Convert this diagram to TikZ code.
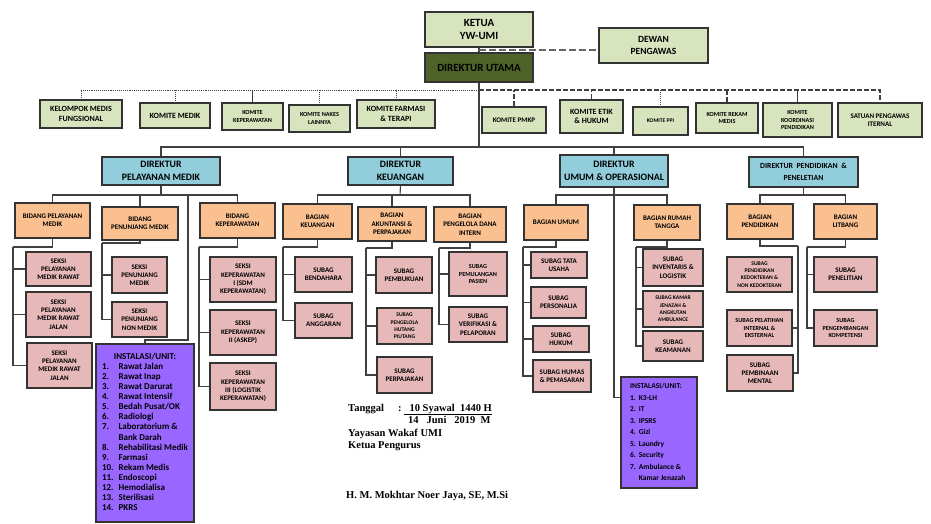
\documentclass[tikz,border=0pt]{standalone}
\usepackage{fontspec}
\setmainfont{Carlito}
\newfontfamily\signfont{Liberation Serif}
\definecolor{boardgreen}{HTML}{D7E4BD}
\definecolor{headolive}{HTML}{4F6228}
\definecolor{dirblue}{HTML}{92CDDC}
\definecolor{partpeach}{HTML}{FAC090}
\definecolor{subpink}{HTML}{E6B9B8}
\definecolor{unitpurple}{HTML}{9966FF}
\begin{document}
\begin{tikzpicture}[x=1pt,y=-1pt,
  box/.style={draw=black!80,line width=1.1pt,inner sep=1pt,align=center},
  boardbox/.style={box,fill=boardgreen},
  headbox/.style={box,fill=headolive},
  dirbox/.style={box,fill=dirblue},
  partbox/.style={box,fill=partpeach},
  subbox/.style={box,fill=subpink},
  unitbox/.style={box,fill=unitpurple},
  fA/.style={font=\bfseries\fontsize{11}{12.5}\selectfont},
  fDir/.style={font=\bfseries\fontsize{9.8}{13}\selectfont},
  fB/.style={font=\bfseries\fontsize{8}{9.5}\selectfont},
  fC/.style={font=\bfseries\fontsize{7}{8.3}\selectfont},
  fD/.style={font=\bfseries\fontsize{6.2}{7.8}\selectfont},
  fE/.style={font=\bfseries\fontsize{5.6}{7.3}\selectfont},
  link/.style={draw=black!75,line width=1.1pt},
  sign/.style={inner sep=0pt,anchor=base west,font=\signfont\bfseries\fontsize{10.5}{12}\selectfont}]
\def\bx#1#2#3#4#5#6#7{\node[#1,minimum width=#5pt-#3pt,minimum height=#6pt-#4pt] (#2) at ({(#3+#5)/2},{(#4+#6)/2}) {#7};}

\useasboundingbox (0,0) rectangle (931,523);

% top
\bx{boardbox,fA}{ketua}{425}{12}{533}{47}{KETUA\\YW-UMI}
\bx{boardbox,fA,font=\bfseries\fontsize{9.5}{12.5}\selectfont}{dewan}{599}{28}{708}{63}{DEWAN\\PENGAWAS}
\bx{headbox,fA}{dirut}{425}{53}{533}{82}{DIREKTUR UTAMA}
\coordinate (kd) at (479,50);
\draw[link] (ketua.south) -- (dirut.north);
\draw[link,draw=black!60,dash pattern=on 7pt off 3pt] (kd) -- (kd -| dewan.west);

% komite
\bx{boardbox,fB}{kmf}{40}{100}{122}{128}{KELOMPOK MEDIS\\FUNGSIONAL}
\bx{boardbox,fB}{kmed}{140}{103}{210}{128}{KOMITE MEDIK}
\bx{boardbox,fD}{kkep}{222}{103}{283}{130}{KOMITE\\KEPERAWATAN}
\bx{boardbox,fD}{knak}{289}{105}{350}{132}{KOMITE NAKES\\LAINNYA}
\bx{boardbox,fB}{kfar}{357}{100}{435}{128}{KOMITE FARMASI\\\& TERAPI}
\bx{boardbox,fC}{kpmkp}{482}{107}{546}{133}{KOMITE PMKP}
\bx{boardbox,fB}{ketik}{560}{100}{623}{133}{KOMITE ETIK\\\& HUKUM}
\bx{boardbox,fE}{kppi}{633}{107}{688}{135}{KOMITE PPI}
\bx{boardbox,fD}{krm}{696}{103}{758}{133}{KOMITE REKAM\\MEDIS}
\bx{boardbox,fD}{kkp}{763}{103}{832}{137}{KOMITE\\KOORDINASI\\PENDIDIKAN}
\bx{boardbox,fC}{spi}{838}{103}{922}{137}{SATUAN PENGAWAS\\ITERNAL}
\coordinate (kbm) at (479,90);
\draw[link,line width=0.9pt,densely dotted] (kmf.north) |- (kbm);
\draw[link,dash pattern=on 5pt off 2pt] (kbm) -| (spi.north);
\draw[link,line width=0.9pt,densely dotted] (kmed.north) -- (kmed.north |- kbm);
\draw[link] (kkep.north) -- (kkep.north |- kbm);
\draw[link,line width=0.9pt,densely dotted] (knak.north) -- (knak.north |- kbm);
\draw[link,line width=0.9pt,densely dotted] (kfar.north) -- (kfar.north |- kbm);
\draw[link,dash pattern=on 5pt off 2pt] (kpmkp.north) -- (kpmkp.north |- kbm);
\draw[link,dash pattern=on 5pt off 2pt] (ketik.north) -- (ketik.north |- kbm);
\draw[link,line width=0.9pt,densely dotted] (kppi.north) -- (kppi.north |- kbm);
\draw[link,dash pattern=on 5pt off 2pt] (krm.north) -- (krm.north |- kbm);
\draw[link] (kkp.north) -- (kkp.north |- kbm);

% direktur
\bx{dirbox,fDir}{dpm}{102}{157}{220}{185}{DIREKTUR\\PELAYANAN MEDIK}
\bx{dirbox,fDir}{dkeu}{348}{157}{453}{185}{DIREKTUR\\KEUANGAN}
\bx{dirbox,fDir}{dumum}{560}{155}{668}{187}{DIREKTUR\\UMUM \& OPERASIONAL}
\bx{dirbox,font=\bfseries\fontsize{7.8}{12}\selectfont}{dpend}{749}{157}{858}{187}{DIREKTUR\ \ PENDIDIKAN\ \ \&\\PENELETIAN}
\coordinate (db) at (479,147);
\draw[link] (dirut.south) -- (db);
\draw[link] (dpm.north) |- (db) -| (dpend.north);
\draw[link] (dkeu.north) |- (db);
\draw[link] (dumum.north) |- (db);

% pelayanan medik
\bx{partbox,fC}{bpm}{15}{203}{90}{238}{BIDANG PELAYANAN\\MEDIK}
\bx{partbox,fC}{bpen}{102}{207}{178}{240}{BIDANG\\PENUNJANG MEDIK}
\bx{partbox,fC}{bkep}{200}{203}{275}{238}{BIDANG\\KEPERAWATAN}
\bx{subbox,fC}{s1}{26}{252}{91}{286}{SEKSI\\PELAYANAN\\MEDIK RAWAT}
\bx{subbox,fC}{s2}{26}{292}{91}{337}{SEKSI\\PELAYANAN\\MEDIK RAWAT\\JALAN}
\bx{subbox,fC}{s3}{27}{343}{92}{388}{SEKSI\\PELAYANAN\\MEDIK RAWAT\\JALAN}
\bx{subbox,fC}{s4}{112}{257}{167}{293}{SEKSI\\PENUNJANG\\MEDIK}
\bx{subbox,fC}{s5}{112}{302}{167}{337}{SEKSI\\PENUNJANG\\NON MEDIK}
\bx{subbox,fC}{s6}{210}{257}{276}{302}{SEKSI\\KEPERAWATAN\\I (SDM\\KEPERAWATAN)}
\bx{subbox,fC}{s7}{210}{310}{276}{355}{SEKSI\\KEPERAWATAN\\II (ASKEP)}
\bx{subbox,fC}{s8}{210}{363}{276}{410}{SEKSI\\KEPERAWATAN\\III (LOGISTIK\\KEPERAWATAN)}
\bx{unitbox,font=\bfseries\fontsize{9}{10.1}\selectfont}{inst1}{96}{344}{194}{522}{%
\begin{tabular}{@{}l@{\hspace{5pt}}l@{}}
\multicolumn{2}{c}{INSTALASI/UNIT:}\\
1. & Rawat Jalan\\
2. & Rawat Inap\\
3. & Rawat Darurat\\
4. & Rawat Intensif\\
5. & Bedah Pusat/OK\\
6. & Radiologi\\
7. & Laboratorium \&\\
   & Bank Darah\\
8. & Rehabilitasi Medik\\
9. & Farmasi\\
10. & Rekam Medis\\
11. & Endoscopi\\
12. & Hemodialisa\\
13. & Sterilisasi\\
14. & PKRS
\end{tabular}}
\coordinate (pmb) at (161,195);
\coordinate (i1) at (188,340);
\draw[link] (dpm.south) -- (pmb);
\draw[link] (bpm.north) |- (pmb) -| (bkep.north);
\draw[link] (pmb) -| (bpen.north);
\draw[link] (pmb) -| (i1) -| (inst1.north);
\coordinate (bpmv) at (13,247);
\draw[link] (bpm.south) |- (bpmv);
\foreach \s in {s1,s2,s3} \draw[link] (bpmv) |- (\s.west);
\coordinate (bpenv) at (102,243);
\draw[link] (bpen.south) |- (bpenv);
\foreach \s in {s4,s5} \draw[link] (bpenv) |- (\s.west);
\coordinate (bkepv) at (199,247);
\draw[link] (bkep.south) |- (bkepv);
\foreach \s in {s6,s7,s8} \draw[link] (bkepv) |- (\s.west);

% keuangan
\bx{partbox,fC}{bkeu}{283}{204}{352}{239}{BAGIAN\\KEUANGAN}
\bx{partbox,fC}{bakun}{358}{207}{426}{241}{BAGIAN\\AKUNTANSI \&\\PERPAJAKAN}
\bx{partbox,fC}{bdana}{434}{207}{506}{242}{BAGIAN\\PENGELOLA DANA\\INTERN}
\bx{subbox,fC}{sb1}{295}{257}{352}{292}{SUBAG\\BENDAHARA}
\bx{subbox,fC}{sb2}{295}{303}{352}{338}{SUBAG\\ANGGARAN}
\bx{subbox,fC}{sb3}{376}{257}{432}{293}{SUBAG\\PEMBUKUAN}
\bx{subbox,fE}{sb4}{377}{308}{432}{344}{SUBAG\\PENGELOLA\\HUTANG\\PIUTANG}
\bx{subbox,fC}{sb5}{377}{357}{432}{393}{SUBAG\\PERPAJAKAN}
\bx{subbox,fD}{sb6}{449}{252}{507}{296}{SUBAG\\PEMULANGAN\\PASIEN}
\bx{subbox,fC}{sb7}{449}{307}{507}{342}{SUBAG\\VERIFIKASI \&\\PELAPORAN}
\coordinate (kub) at (400,195);
\draw[link] (dkeu.south) -- (kub);
\draw[link] (bkeu.north) |- (kub) -| (bdana.north);
\draw[link] (kub) -| (bakun.north);
\coordinate (bkeuv) at (283,247);
\draw[link] (bkeu.south) |- (bkeuv);
\foreach \s in {sb1,sb2} \draw[link] (bkeuv) |- (\s.west);
\coordinate (bakunv) at (366,248);
\draw[link] (bakun.south) |- (bakunv);
\foreach \s in {sb3,sb4,sb5} \draw[link] (bakunv) |- (\s.west);
\coordinate (bdanav) at (439,248);
\draw[link] (bdana.south) |- (bdanav);
\foreach \s in {sb6,sb7} \draw[link] (bdanav) |- (\s.west);

% umum & operasional
\bx{partbox,fC}{bum}{524}{205}{588}{240}{BAGIAN UMUM}
\bx{partbox,fC}{brt}{634}{205}{700}{240}{BAGIAN RUMAH\\TANGGA}
\bx{subbox,fC}{su1}{531}{252}{587}{278}{SUBAG TATA\\USAHA}
\bx{subbox,fC}{su2}{531}{287}{586}{318}{SUBAG\\PERSONALIA}
\bx{subbox,fC}{su3}{533}{326}{589}{352}{SUBAG\\HUKUM}
\bx{subbox,fC}{su4}{533}{360}{591}{392}{SUBAG HUMAS\\\& PEMASARAN}
\bx{subbox,fC}{sr1}{643}{249}{703}{286}{SUBAG\\INVENTARIS \&\\LOGISTIK}
\bx{subbox,fE}{sr2}{643}{291}{703}{327}{SUBAG KAMAR\\JENAZAH \&\\ANGKUTAN\\AMBULANCE}
\bx{subbox,fC}{sr3}{643}{331}{703}{361}{SUBAG\\KEAMANAN}
\bx{unitbox,font=\bfseries\fontsize{7.5}{11.5}\selectfont}{inst2}{621}{377}{697}{488}{%
\begin{tabular}{@{}l@{\hspace{3pt}}l@{}}
\multicolumn{2}{@{}l}{INSTALASI/UNIT:}\\
1. & K3-LH\\
2. & IT\\
3. & IPSRS\\
4. & Gizi\\
5. & Laundry\\
6. & Security\\
7. & Ambulance \&\\
   & Kamar Jenazah
\end{tabular}}
\coordinate (umb) at (614,195);
\draw[link] (dumum.south) |- ([yshift=-21pt]inst2.north west);
\draw[link] (bum.north) |- (umb) -| (brt.north);
\coordinate (bumv) at (523,247);
\draw[link] (bum.south) |- (bumv);
\foreach \s in {su1,su2,su3,su4} \draw[link] (bumv) |- (\s.west);
\coordinate (brtv) at (636,247);
\draw[link] (brt.south) |- (brtv);
\foreach \s in {sr1,sr2,sr3} \draw[link] (brtv) |- (\s.west);

% pendidikan & penelitian
\bx{partbox,fC}{bpd}{727}{204}{793}{239}{BAGIAN\\PENDIDIKAN}
\bx{partbox,fC}{blit}{814}{204}{877}{239}{BAGIAN\\LITBANG}
\bx{subbox,fE}{sp1}{727}{257}{792}{292}{SUBAG\\PENDIDIKAN\\KEDOKTERAN \&\\NON KEDOKTERAN}
\bx{subbox,fD}{sp2}{727}{310}{792}{346}{SUBAG PELATIHAN\\INTERNAL \&\\EKSTERNAL}
\bx{subbox,fC}{sp3}{727}{355}{793}{391}{SUBAG\\PEMBINAAN\\MENTAL}
\bx{subbox,fC}{sl1}{814}{257}{877}{292}{SUBAG\\PENELITIAN}
\bx{subbox,fD}{sl2}{814}{310}{877}{346}{SUBAG\\PENGEMBANGAN\\KOMPETENSI}
\coordinate (pdb) at (803.5,195);
\draw[link] (dpend.south) -- (pdb);
\draw[link] (bpd.north) |- (pdb) -| (blit.north);
\coordinate (bpdv) at (798,246);
\draw[link] (bpd.south) |- (bpdv);
\foreach \s in {sp2,sp3} \draw[link] (bpdv) |- (\s.east);
\coordinate (blitv) at (807,247);
\draw[link] (blit.south) |- (blitv);
\foreach \s in {sl1,sl2} \draw[link] (blitv) |- (\s.west);

% pengesahan
\node[sign] (tgl) at (348,411) {Tanggal};
\node[sign] (tglh) at (398,411) {:\ \underline{\ \ 10 Syawal\ \ 1440 H}};
\node[sign] (tglm) at (408,423) {14\ \ \ Juni\ \ \ 2019\ \ M};
\node[sign] (yys) at (348,436) {Yayasan Wakaf UMI};
\node[sign] (ktp) at (348,448) {Ketua Pengurus};
\node[sign] (ttd) at (346,498) {H. M. Mokhtar Noer Jaya, SE, M.Si};
\end{tikzpicture}
\end{document}
